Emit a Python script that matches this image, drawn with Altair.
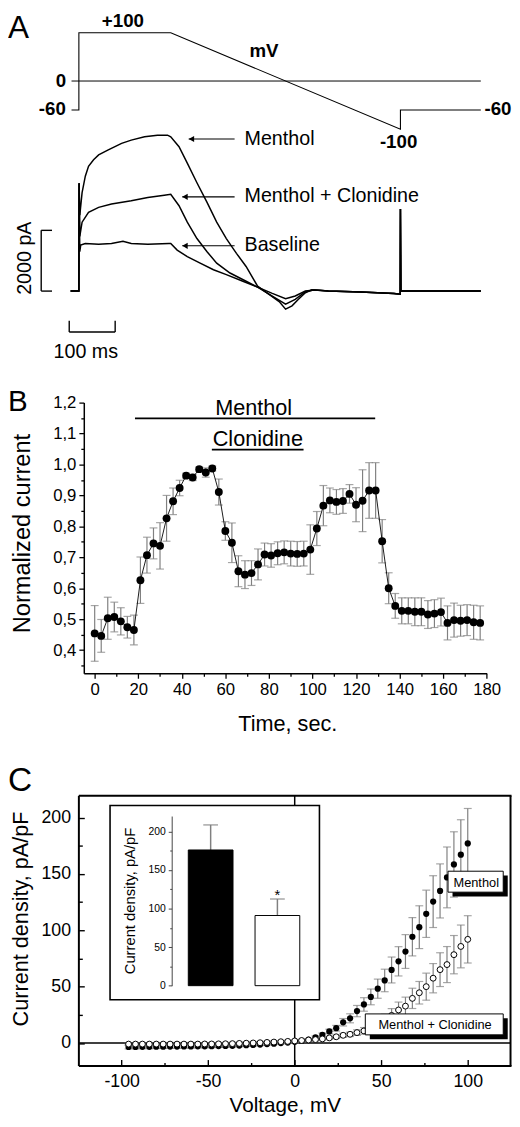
import altair as alt
import pandas as pd

FONT = "Liberation Sans"
W, H = 512, 1119

# ====================== DATA ======================
# ---- Panel A : voltage protocol (ms, mV)
volt_t = [-16, 0, 0, 200, 700, 700, 875]
volt_mv = [-60, -60, 100, 100, -100, -60, -60]

# ---- Panel A : current traces (ms, pA)
menthol_t = [-18, 0, 0.5, 2, 7, 14, 21, 32, 43, 64, 93, 114, 143, 171, 193, 200, 218, 236,
             257, 279, 300, 321, 343, 364, 389, 414, 436, 450, 464, 478, 493, 507, 521, 543]
menthol_pa = [0, 0, 3550, 2500, 3244, 3784, 4108, 4324, 4486, 4648, 4864, 4972, 5080, 5134,
              5134, 5080, 4756, 4216, 3568, 2919, 2270, 1730, 1243, 811, 162, -108, -346,
              -595, -487, -270, -54, 43, 32, 0]
clon_t = [-18, 0, 0.5, 2, 7, 21, 43, 71, 114, 150, 186, 200, 218, 236, 257, 279, 300, 329,
          364, 389, 421, 450, 471, 493, 511, 543]
clon_pa = [0, 0, 3550, 1800, 2270, 2594, 2757, 2865, 2973, 3081, 3157, 3189, 2811, 2270,
           1730, 1297, 919, 595, 324, 130, -162, -432, -270, -22, 32, 0]
base_t = [-18, 0, 0.5, 2, 4, 14, 43, 71, 96, 114, 150, 196, 200, 214, 236, 264, 293, 321,
          357, 389, 421, 450, 471, 493, 514, 543]
base_pa = [0, 0, 3550, 1300, 1513, 1567, 1546, 1567, 1643, 1567, 1546, 1567, 1567, 1351,
           1135, 919, 703, 541, 324, 130, -76, -248, -162, 0, 32, 0]
tail_t = [614, 686, 699.5, 700, 701, 875]
tail_pa = [-30, -80, -100, 2700, 0, 0]
trace_names = ["Menthol", "Menthol + Clonidine", "Baseline"]

# ---- Panel B : normalized current vs time
b_time = [0, 3, 6, 9, 12, 15, 18, 21, 24, 27, 30, 33, 36, 39, 42, 45, 48, 51, 54, 57,
          60, 63, 66, 69, 72, 75, 78, 81, 84, 87, 90, 93, 96, 99, 102, 105, 108, 111, 114, 117,
          120, 123, 126, 129, 132, 135, 138, 141, 144, 147, 150, 153, 156, 159, 162, 165, 168, 171, 174, 177]
b_val = [0.454, 0.446, 0.503, 0.507, 0.493, 0.474, 0.465, 0.626, 0.707, 0.745,
         0.737, 0.826, 0.881, 0.924, 0.964, 0.958, 0.985, 0.974, 0.987, 0.911,
         0.785, 0.747, 0.655, 0.644, 0.649, 0.677, 0.709, 0.706, 0.713, 0.716,
         0.712, 0.711, 0.712, 0.725, 0.793, 0.867, 0.884, 0.879, 0.882, 0.905,
         0.870, 0.883, 0.916, 0.916, 0.752, 0.600, 0.543, 0.527, 0.527, 0.524,
         0.524, 0.515, 0.518, 0.523, 0.488, 0.497, 0.495, 0.497, 0.490, 0.488]
b_err = [0.090, 0.053, 0.068, 0.048, 0.044, 0.035, 0.048, 0.075, 0.058, 0.050,
         0.075, 0.074, 0.043, 0.025, 0.008, 0.010, 0.007, 0.015, 0.008, 0.042,
         0.030, 0.064, 0.050, 0.045, 0.040, 0.050, 0.037, 0.038, 0.037, 0.037,
         0.040, 0.040, 0.040, 0.080, 0.055, 0.065, 0.040, 0.040, 0.040, 0.030,
         0.055, 0.100, 0.090, 0.090, 0.070, 0.050, 0.040, 0.042, 0.042, 0.045,
         0.045, 0.045, 0.045, 0.045, 0.055, 0.055, 0.050, 0.050, 0.055, 0.055]

# ---- Panel C : I-V relation (mV, pA/pF)
c_mv = [-96, -92, -88, -84, -80, -76, -72, -68, -64, -60, -56, -52, -48, -44, -40, -36, -32,
        -28, -24, -20, -16, -12, -8, -4, 0, 4, 8, 12, 16, 20, 24, 28, 32, 36, 40, 44, 48, 52,
        56, 60, 64, 68, 72, 76, 80, 84, 88, 92, 96, 100]
c_menthol = [-3.5, -3.5, -3.4, -3.4, -3.3, -3.3, -3.2, -3.2, -3.1, -3.1, -3.0, -3.0, -2.9,
             -2.8, -2.7, -2.5, -2.3, -2.0, -1.7, -1.4, -1.0, -0.6, -0.1, 0.4,
             1.0, 1.8, 2.9, 5.0, 7.3, 10.2, 13.1, 18.4, 21.9, 28.3, 34.2, 40.9, 48.2, 55.5,
             64.8, 72.5, 81.2, 94.3, 102.8, 114.7, 125.5, 135.0, 147.0, 158.5, 167.2, 177.2]
c_menthol_err = [1.8, 1.8, 1.7, 1.7, 1.6, 1.6, 1.5, 1.5, 1.5, 1.4, 1.4, 1.3, 1.3, 1.2, 1.2,
                 1.1, 1.1, 1.0, 1.0, 0.9, 0.9, 0.8, 0.8, 0.8,
                 1.0, 1.0, 1.0, 1.2, 1.5, 2.0, 2.5, 3.3, 4.0, 5.0, 6.0, 7.0, 8.5, 10.0, 11.5,
                 13.0, 15.0, 17.0, 19.0, 21.0, 23.0, 24.0, 27.0, 29.0, 31.0, 31.0]
c_clon = [-1.0, -1.0, -1.0, -1.0, -1.0, -1.0, -1.0, -1.0, -1.0, -1.0, -1.0, -0.9, -0.9,
          -0.8, -0.7, -0.6, -0.4, -0.2, 0.0, 0.2, 0.5, 0.8, 1.1, 1.4,
          1.8, 2.2, 2.6, 3.0, 3.6, 4.5, 5.5, 6.8, 7.7, 9.2, 10.7, 14.0, 17.0, 20.5, 24.5,
          29.3, 32.7, 39.6, 44.6, 50.0, 57.5, 65.1, 69.6, 78.4, 85.7, 92.0]
c_clon_err = [1.0, 1.0, 1.0, 1.0, 1.0, 1.0, 1.0, 1.0, 1.0, 1.0, 1.0, 1.0, 1.0, 1.0, 1.0,
              1.0, 1.0, 1.0, 1.0, 1.0, 1.0, 1.0, 1.0, 1.0,
              1.0, 1.0, 1.0, 1.0, 1.0, 1.2, 1.5, 1.8, 2.0, 2.5, 3.0, 3.5, 4.0, 5.0, 6.0,
              7.0, 8.0, 9.0, 10.0, 12.0, 13.0, 15.0, 16.0, 17.0, 19.0, 21.0]

# ---- Panel C inset : bar chart
inset_cat = ["Menthol", "Menthol + Clonidine"]
inset_val = [176, 91]
inset_err = [32.5, 21.4]

# ====================== HELPERS ======================
def S(domain, rng, **kw):
    return alt.Scale(domain=domain, range=rng, zero=False, nice=False, **kw)

def cond(test, a, b):
    return {"condition": {"test": test, "value": a}, "value": b}

GREY = "#808080"

# ====================== PANEL A ======================
xA = S([0, 875], [72, 480.33])
yV = S([-100, 100], [114.3, 16.3])
yI = S([0, 2000], [278.7, 217.0])
XA = alt.X("t:Q", scale=xA, axis=None)
YV = alt.Y("v:Q", scale=yV, axis=None)
YI = alt.Y("i:Q", scale=yI, axis=None)

dfV = pd.DataFrame({"t": volt_t, "v": volt_mv, "o": list(range(len(volt_t)))})
v_line = alt.Chart(dfV).mark_line(color="black", strokeWidth=1.1).encode(x=XA, y=YV, order="o:Q")
v_zero = alt.Chart(pd.DataFrame({"t": [-16], "t2": [875], "v": [0]})).mark_rule(
    color="black", strokeWidth=1).encode(x=XA, x2="t2:Q", y=YV)
vlab = pd.DataFrame({
    "label": ["+100", "mV", "0", "-60", "-100", "-60"],
    "t": [95.8, 403, -27.9, -28.5, 696, 883],
    "v": [111.6, 50.4, -11.6, -70, -138, -70],
    "al": ["center", "center", "right", "right", "center", "left"],
})
v_texts = [
    alt.Chart(vlab[vlab.al == a]).mark_text(align=a, baseline="alphabetic", fontSize=19,
                                            fontWeight="bold", color="black")
    .encode(x=XA, y=YV, text="label:N")
    for a in ["left", "center", "right"]
]
A_V = alt.layer(v_zero, v_line, *v_texts)

rows = []
for name, ts, vs in [(trace_names[0], menthol_t, menthol_pa),
                     (trace_names[1], clon_t, clon_pa),
                     (trace_names[2], base_t, base_pa)]:
    for k, (t, v) in enumerate(zip(ts + tail_t, vs + tail_pa)):
        rows.append({"trace": name, "t": t, "i": v, "o": k})
dfI = pd.DataFrame(rows)
traces = alt.Chart(dfI).mark_line(color="black", strokeWidth=1.5).encode(
    x=XA, y=YI, detail="trace:N", order="o:Q")

sb_v = alt.Chart(pd.DataFrame({"t": [-82], "i": [0], "i2": [2000]})).mark_rule(
    color="black", strokeWidth=1.4).encode(x=XA, y=YI, y2="i2:Q")
sb_vc = alt.Chart(pd.DataFrame({"t": [-82, -82], "t2": [-58.5, -58.5], "i": [0, 2000]})).mark_rule(
    color="black", strokeWidth=1.4).encode(x=XA, x2="t2:Q", y=YI)
sb_h = alt.Chart(pd.DataFrame({"t": [-21], "t2": [79], "i": [-1349]})).mark_rule(
    color="black", strokeWidth=1.4).encode(x=XA, x2="t2:Q", y=YI)
sb_hc = alt.Chart(pd.DataFrame({"t": [-21, 79], "i": [-1349, -1349], "i2": [-973, -973]})).mark_rule(
    color="black", strokeWidth=1.4).encode(x=XA, y=YI, y2="i2:Q")
sb_t1 = alt.Chart(pd.DataFrame({"t": [-105], "i": [1083], "label": ["2000 pA"]})).mark_text(
    angle=270, align="center", baseline="alphabetic", fontSize=20, color="black").encode(
    x=XA, y=YI, text="label:N")
sb_t2 = alt.Chart(pd.DataFrame({"t": [15], "i": [-2215], "label": ["100 ms"]})).mark_text(
    align="center", baseline="alphabetic", fontSize=20, color="black").encode(
    x=XA, y=YI, text="label:N")

arr = pd.DataFrame({"t": [339, 339, 339], "t2": [239, 225, 225], "i": [5008, 3104, 1492],
                    "head": [245, 231, 231]})
arrows = alt.Chart(arr).mark_rule(color="black", strokeWidth=1.2).encode(x=XA, x2="t2:Q", y=YI)
heads = alt.Chart(arr).mark_point(shape="triangle-left", filled=True, color="black",
                                  size=40, opacity=1).encode(
    x=alt.X("head:Q", scale=xA, axis=None), y=YI)
tlab = pd.DataFrame({"label": trace_names, "t": [360.6, 360.6, 360.6], "i": [4813, 2919, 1320]})
tlabels = alt.Chart(tlab).mark_text(align="left", baseline="alphabetic", fontSize=20,
                                    color="black").encode(x=XA, y=YI, text="label:N")
A_I = alt.layer(traces, sb_v, sb_vc, sb_h, sb_hc, sb_t1, sb_t2, arrows, heads, tlabels)

# ====================== PANEL B ======================
xB = S([-5, 180], [77, 486.3])
yB = S([0.325, 1.2], [667, 392])
dfB = pd.DataFrame({"t": b_time, "v": b_val, "e": b_err})
dfB["lo"] = dfB.v - dfB.e
dfB["hi"] = dfB.v + dfB.e

XB = alt.X("t:Q", scale=xB, axis=None)
b_err_rule = alt.Chart(dfB).mark_rule(color=GREY, strokeWidth=1.2).encode(
    x=XB, y=alt.Y("lo:Q", scale=yB, axis=None), y2="hi:Q")
b_cap_lo = alt.Chart(dfB).mark_tick(orient="horizontal", size=8, thickness=1.2, color=GREY).encode(
    x=XB, y=alt.Y("lo:Q", scale=yB, axis=None))
b_cap_hi = alt.Chart(dfB).mark_tick(orient="horizontal", size=8, thickness=1.2, color=GREY).encode(
    x=XB, y=alt.Y("hi:Q", scale=yB, axis=None))
b_line = alt.Chart(dfB).mark_line(color="black", strokeWidth=0.9).encode(
    x=XB, y=alt.Y("v:Q", scale=yB, axis=None))
b_pts = alt.Chart(dfB).mark_circle(size=64, color="black", opacity=1).encode(
    x=XB, y=alt.Y("v:Q", scale=yB, axis=None))
b_bars = alt.Chart(pd.DataFrame({"t": [18.5, 53.8], "t2": [128.8, 95.9], "v": [1.149, 1.048]})).mark_rule(
    color="black", strokeWidth=1.6).encode(x=XB, x2="t2:Q", y=alt.Y("v:Q", scale=yB, axis=None))
b_txt = alt.Chart(pd.DataFrame({"t": [73.0, 74.9], "v": [1.161, 1.059],
                                "label": ["Menthol", "Clonidine"]})).mark_text(
    align="center", baseline="alphabetic", fontSize=22, color="black").encode(
    x=XB, y=alt.Y("v:Q", scale=yB, axis=None), text="label:N")
B = alt.layer(b_err_rule, b_cap_lo, b_cap_hi, b_line, b_pts, b_bars, b_txt)

b_ticks = [round(0.35 + 0.05 * k, 2) for k in range(18)]
majB = "abs(datum.value*10 - round(datum.value*10)) < 0.001"
B_axes = alt.Chart(pd.DataFrame({"t": [-5, 180], "v": [0.325, 1.2]})).mark_point(opacity=0).encode(
    x=alt.X("t:Q", scale=xB, axis=alt.Axis(
        orient="bottom", offset=-452, values=list(range(0, 181, 10)),
        tickSize=cond("datum.value % 20 === 0", 5, 3),
        labelExpr="datum.value % 20 === 0 ? datum.label : ''",
        labelFontSize=17, labelPadding=4, domainWidth=1.5, tickWidth=1.3,
        title="Time, sec.", titleFontSize=22, titleX=283.7, titleY=58.5,
        titleBaseline="alphabetic", titleAlign="center")),
    y=alt.Y("v:Q", scale=yB, axis=alt.Axis(
        orient="left", offset=-77, values=b_ticks,
        tickSize=cond(majB, 5, 3),
        labelExpr=majB + " ? replace(format(datum.value, '.1f'), '.', ',') : ''",
        labelFontSize=17, labelPadding=3, domainWidth=1.5, tickWidth=1.3,
        title="Normalized current", titleFontSize=24, titleAngle=270,
        titleX=-55, titleY=524.5, titleBaseline="alphabetic", titleAlign="center")))

# ====================== PANEL C ======================
xC = S([-125, 125], [71.5, 511])
yC = S([-20, 220], [1065.4, 790.8])
XC = alt.X("x:Q", scale=xC, axis=None)
YCn = lambda f: alt.Y(f, scale=yC, axis=None)

dfC = pd.DataFrame({"x": c_mv, "m": c_menthol, "me": c_menthol_err,
                    "c": c_clon, "ce": c_clon_err})
dfC["mlo"] = dfC.m - dfC.me
dfC["mhi"] = dfC.m + dfC.me
dfC["clo"] = dfC.c - dfC.ce
dfC["chi"] = dfC.c + dfC.ce

c_hzero = alt.Chart(pd.DataFrame({"x": [-125], "x2": [125], "y": [0]})).mark_rule(
    color="black", strokeWidth=1.5).encode(x=XC, x2="x2:Q", y=YCn("y:Q"))
c_vzero = alt.Chart(pd.DataFrame({"x": [0], "y": [-20], "y2": [220]})).mark_rule(
    color="black", strokeWidth=1.5).encode(x=XC, y=YCn("y:Q"), y2="y2:Q")
c_inset_box = alt.Chart(pd.DataFrame({"x": [-106.7], "x2": [14.3], "y": [38.3], "y2": [210.8]})).mark_rect(
    fill="white", stroke="black", strokeWidth=1.6).encode(x=XC, x2="x2:Q", y=YCn("y:Q"), y2="y2:Q")

def series(lo, hi, val, filled):
    r = alt.Chart(dfC).mark_rule(color=GREY, strokeWidth=1.2).encode(x=XC, y=YCn(lo + ":Q"), y2=hi + ":Q")
    c1 = alt.Chart(dfC).mark_tick(orient="horizontal", size=8, thickness=1.2, color=GREY).encode(
        x=XC, y=YCn(lo + ":Q"))
    c2 = alt.Chart(dfC).mark_tick(orient="horizontal", size=8, thickness=1.2, color=GREY).encode(
        x=XC, y=YCn(hi + ":Q"))
    if filled:
        p = alt.Chart(dfC).mark_circle(size=40, color="black", opacity=1).encode(x=XC, y=YCn(val + ":Q"))
    else:
        p = alt.Chart(dfC).mark_circle(size=36, fill="white", stroke="black", strokeWidth=1,
                                       opacity=1).encode(x=XC, y=YCn(val + ":Q"))
    return [r, c1, c2, p]

leg = pd.DataFrame({"x": [88.6, 40.8], "x2": [120.5, 120.5], "y": [133.9, 7.2], "y2": [152.5, 25.8],
                    "tx": [104.9, 81.1], "ty": [138.8, 12.1],
                    "label": ["Menthol", "Menthol + Clonidine"]})
leg["sx"] = leg.x + 2.6
leg["sx2"] = leg.x2 + 2.6
leg["sy"] = leg.y - 3.9
leg["sy2"] = leg.y2 - 3.9
leg_shadow = alt.Chart(leg).mark_rect(fill="black").encode(
    x=alt.X("sx:Q", scale=xC, axis=None), x2="sx2:Q", y=YCn("sy:Q"), y2="sy2:Q")
leg_box = alt.Chart(leg).mark_rect(fill="white", stroke="black", strokeWidth=1).encode(
    x=XC, x2="x2:Q", y=YCn("y:Q"), y2="y2:Q")
leg_txt = alt.Chart(leg).mark_text(align="center", baseline="alphabetic", fontSize=13,
                                   color="black").encode(
    x=alt.X("tx:Q", scale=xC, axis=None), y=YCn("ty:Q"), text="label:N")

C_main = alt.layer(c_hzero, c_vzero, c_inset_box,
                   *series("mlo", "mhi", "m", True),
                   *series("clo", "chi", "c", False),
                   leg_shadow, leg_box, leg_txt)

dummy = pd.DataFrame({"x": [-125, 125], "y": [-20, 220]})
C_axes = alt.Chart(dummy).mark_point(opacity=0).encode(
    x=alt.X("x:Q", scale=xC, axis=alt.Axis(
        orient="bottom", offset=-53.6, values=[-100, -50, 0, 50, 100], ticks=False,
        labelExpr="datum.value < 0 ? '-' + abs(datum.value) : '' + datum.value",
        domainWidth=2, labelFontSize=18, labelPadding=7.5,
        title="Voltage, mV", titleFontSize=21, titleX=281.2, titleY=47,
        titleBaseline="alphabetic", titleAlign="center")),
    y=alt.Y("y:Q", scale=yC, axis=alt.Axis(
        orient="left", offset=-71.5, values=[0, 50, 100, 150, 200], ticks=False,
        domainWidth=2, labelFontSize=18, labelPadding=8,
        title="Current density, pA/pF", titleFontSize=22, titleAngle=270,
        titleX=-52, titleY=916, titleBaseline="alphabetic", titleAlign="center")))
C_ticks = alt.Chart(dummy).mark_point(opacity=0).encode(
    x=alt.X("x:Q", scale=xC, axis=alt.Axis(
        orient="top", offset=-1065.4, values=[-100, -75, -50, -25, 0, 25, 50, 75, 100],
        tickSize=cond("datum.value % 50 === 0", 6, 3), tickWidth=1.4,
        labels=False, domain=False, title=None)),
    y=alt.Y("y:Q", scale=yC, axis=alt.Axis(
        orient="right", offset=-440.5, values=[0, 25, 50, 75, 100, 125, 150, 175, 200],
        tickSize=cond("datum.value % 50 === 0", 6, 4), tickWidth=1.4,
        labels=False, domain=False, title=None)))
C_frame = alt.Chart(dummy).mark_point(opacity=0).encode(
    x=alt.X("x:Q", scale=xC, axis=alt.Axis(
        orient="top", offset=-790.8, ticks=False, labels=False, domainWidth=2, title=None)),
    y=alt.Y("y:Q", scale=yC, axis=alt.Axis(
        orient="right", offset=-2, ticks=False, labels=False, domainWidth=2, title=None)))

# ---- inset
xIn = alt.Scale(domain=inset_cat, range=[183.15, 296.4], paddingInner=0.33, paddingOuter=0)
yIn = S([0, 220], [984.3, 812.0])
dfIn = pd.DataFrame({"cat": inset_cat, "val": inset_val, "err": inset_err})
dfIn["hi"] = dfIn.val + dfIn.err
XIn = alt.X("cat:N", scale=xIn, axis=None)
in_err = alt.Chart(dfIn).mark_rule(color=GREY, strokeWidth=1.5).encode(
    x=XIn, y=alt.Y("val:Q", scale=yIn, axis=None), y2="hi:Q")
in_cap = alt.Chart(dfIn).mark_tick(orient="horizontal", size=15, thickness=1.5, color=GREY).encode(
    x=XIn, y=alt.Y("hi:Q", scale=yIn, axis=None))
in_bar1 = alt.Chart(dfIn[dfIn.cat == inset_cat[0]]).mark_bar(fill="black", stroke="black", strokeWidth=1).encode(
    x=XIn, y=alt.Y("val:Q", scale=yIn, axis=None))
in_bar2 = alt.Chart(dfIn[dfIn.cat == inset_cat[1]]).mark_bar(fill="white", stroke="black", strokeWidth=1).encode(
    x=XIn, y=alt.Y("val:Q", scale=yIn, axis=None))
in_star = alt.Chart(pd.DataFrame({"cat": [inset_cat[1]], "y": [110.5], "label": ["*"]})).mark_text(
    align="center", baseline="alphabetic", fontSize=15, color="black").encode(
    x=XIn, y=alt.Y("y:Q", scale=yIn, axis=None), text="label:N")
Inset = alt.layer(in_err, in_cap, in_bar1, in_bar2, in_star)

Inset_axis = alt.Chart(pd.DataFrame({"y": [0, 220]})).mark_point(opacity=0).encode(
    y=alt.Y("y:Q", scale=yIn, axis=alt.Axis(
        orient="left", offset=-166.3, values=[0, 25, 50, 75, 100, 125, 150, 175, 200],
        tickSize=cond("datum.value % 50 === 0", 3.5, 2),
        labelExpr="datum.value % 50 === 0 ? datum.label : ''",
        labelFontSize=10.5, labelPadding=3, domainWidth=1, tickWidth=1,
        domainColor="#444444", tickColor="#444444",
        title="Current density, pA/pF", titleFontSize=15, titleAngle=270,
        titleX=-37.3, titleY=897.8, titleBaseline="alphabetic", titleAlign="center",
        zindex=1)))

# ---- panel letters
one = pd.DataFrame({"a": [0]})
letters = [
    alt.Chart(one).mark_text(text=t, align="left", baseline="alphabetic", fontSize=fs,
                             color="black").encode(x=alt.value(0), y=alt.value(y))
    for t, fs, y in [("A", 32, 22), ("B", 30, 400.3), ("C", 34, 787)]
]

chart = alt.layer(A_V, A_I, B, B_axes, C_main, C_axes, C_ticks, C_frame, Inset, Inset_axis,
                  *letters).resolve_scale(
    x="independent", y="independent"
).properties(
    width=W, height=H, padding=0, autosize=alt.AutoSizeParams(type="none")
).configure(font=FONT).configure_view(stroke=None).configure_axis(
    grid=False, labelFont=FONT, titleFont=FONT, titleFontWeight="normal",
    labelColor="black", titleColor="black", domainColor="black", tickColor="black",
    labelFlush=False, labelOverlap=False
)

chart.save("out.html", embed_options={"renderer": "svg", "actions": False})
